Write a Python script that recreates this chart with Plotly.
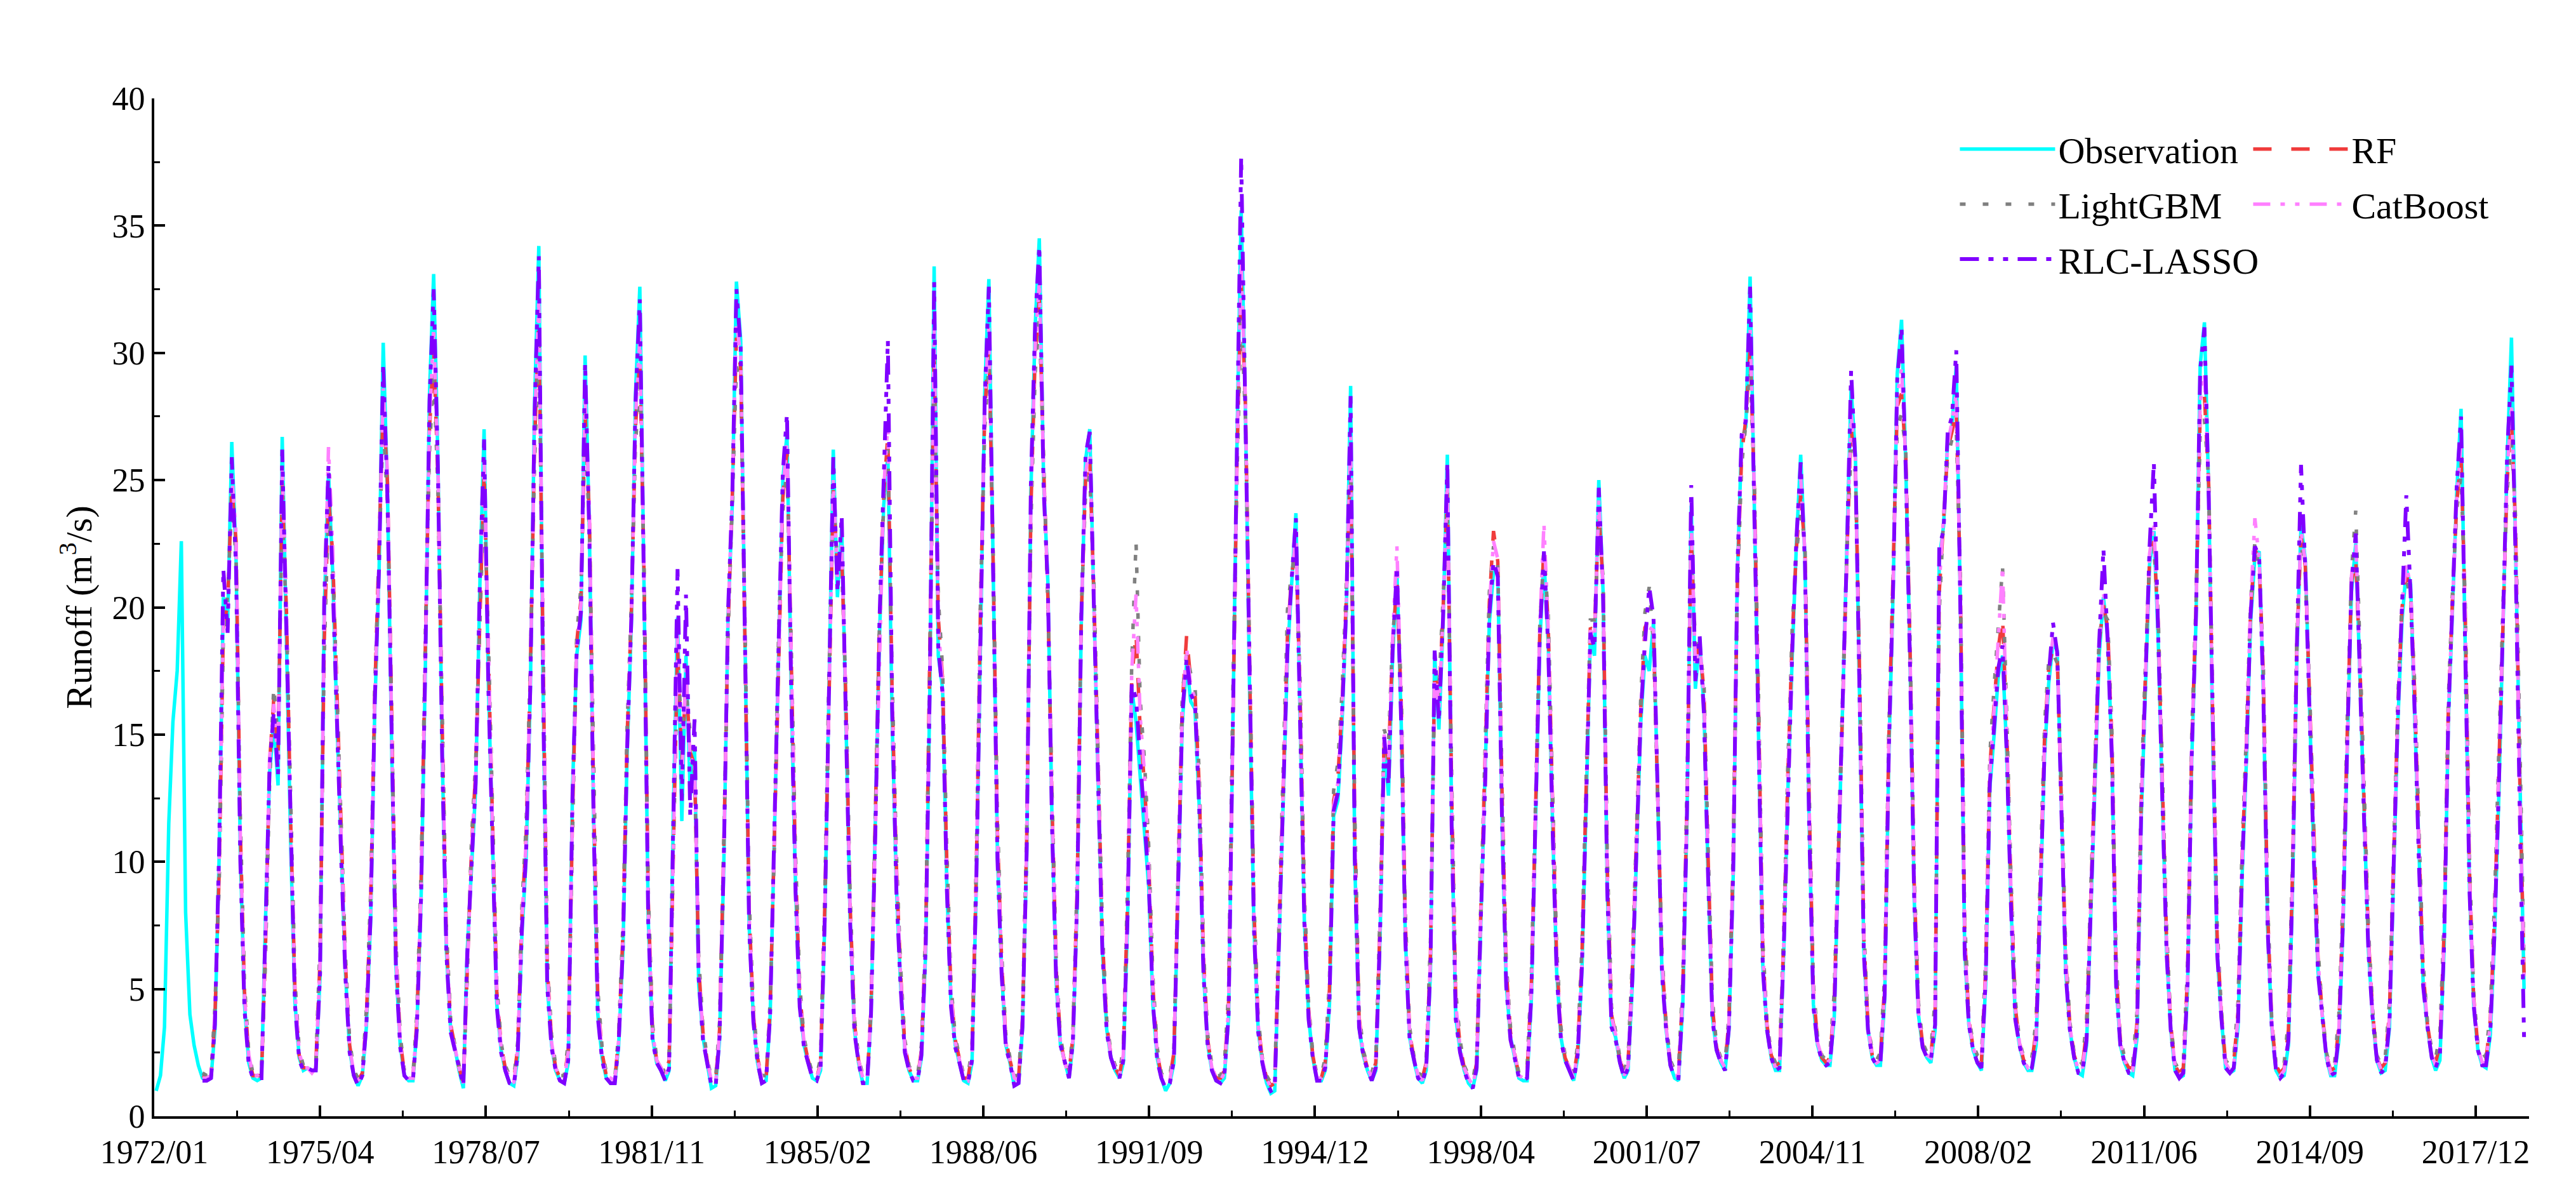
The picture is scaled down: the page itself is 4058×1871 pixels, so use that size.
import pandas as pd
import plotly.graph_objects as go

# ---------------- data (monthly runoff, m3/s) ----------------
OBS_START = "1972-01-01"      # first observed month
MODEL_START = "1972-12-01"    # first simulated month

observation = [
    1.0, 1.6, 3.5, 11.5, 15.5, 17.5, 22.6, 8.0, 4.0, 2.8, 2.0, 1.5,        # 1972
    1.4, 1.5, 3.4, 10.3, 20.4, 19.4, 26.5, 21.9, 10.3, 4.4, 2.1, 1.5,      # 1973
    1.4, 1.5, 7.5, 13.5, 15.5, 13.0, 26.7, 18.5, 10.5, 4.5, 2.3, 1.8,      # 1974
    1.9, 1.8, 1.8, 5.5, 19.9, 25.3, 21.4, 15.5, 10.3, 5.7, 2.6, 1.6,       # 1975
    1.2, 1.6, 3.5, 7.7, 16.0, 21.4, 30.4, 24.5, 14.2, 5.9, 2.8, 1.6,       # 1976
    1.4, 1.4, 3.4, 8.5, 17.3, 28.4, 33.1, 25.8, 14.2, 6.5, 3.4, 2.7,       # 1977
    1.8, 1.1, 6.5, 10.0, 12.9, 21.0, 27.0, 17.0, 10.5, 4.4, 2.6, 1.8,      # 1978
    1.3, 1.2, 2.3, 7.2, 10.1, 16.8, 27.9, 34.2, 16.8, 5.2, 2.8, 1.8,       # 1979
    1.4, 1.3, 2.1, 12.9, 18.1, 19.5, 29.9, 23.0, 11.6, 4.0, 2.3, 1.5,      # 1980
    1.3, 1.3, 2.8, 6.5, 14.2, 19.4, 28.4, 32.6, 20.6, 7.7, 3.1, 2.1,       # 1981
    1.8, 1.4, 1.8, 12.0, 19.6, 11.6, 18.1, 12.6, 14.5, 5.2, 3.1, 2.1,      # 1982
    1.1, 1.2, 3.0, 10.0, 19.5, 24.0, 32.8, 30.5, 18.0, 7.5, 3.8, 2.1,      # 1983
    1.3, 1.4, 3.9, 11.6, 18.1, 25.0, 26.8, 16.8, 9.0, 4.4, 2.8, 2.1,       # 1984
    1.5, 1.4, 1.8, 7.7, 16.8, 26.2, 20.4, 23.2, 15.5, 7.7, 3.4, 2.1,       # 1985
    1.3, 1.3, 3.9, 10.8, 18.8, 24.0, 26.0, 15.5, 9.0, 5.2, 2.6, 1.8,       # 1986
    1.4, 1.4, 2.3, 6.5, 16.8, 33.4, 18.1, 16.8, 9.0, 4.4, 2.8, 2.1,        # 1987
    1.4, 1.3, 2.1, 9.0, 19.4, 28.4, 32.9, 20.6, 10.3, 5.7, 2.8, 2.1,       # 1988
    1.2, 1.3, 3.4, 10.3, 24.5, 31.0, 34.5, 25.0, 21.0, 11.6, 5.2, 2.8,     # 1989
    2.1, 1.5, 2.8, 8.3, 19.4, 25.8, 27.0, 19.4, 12.9, 6.5, 3.4, 2.3,       # 1990
    1.8, 1.5, 2.1, 7.7, 16.8, 15.5, 13.4, 11.6, 9.0, 4.4, 2.3, 1.5,        # 1991
    1.0, 1.3, 2.1, 9.0, 15.5, 17.8, 16.3, 16.0, 12.1, 5.7, 2.8, 1.8,       # 1992
    1.4, 1.3, 1.5, 3.9, 15.5, 26.6, 35.6, 27.6, 16.3, 7.5, 3.4, 2.1,       # 1993
    1.3, 0.9, 1.0, 6.5, 12.9, 18.1, 20.9, 23.7, 15.5, 7.7, 3.9, 2.3,       # 1994
    1.4, 1.4, 1.8, 4.4, 11.8, 12.4, 15.5, 19.9, 28.7, 10.0, 3.5, 2.4,      # 1995
    1.8, 1.4, 1.8, 7.0, 14.7, 12.6, 18.1, 21.4, 15.5, 7.0, 3.1, 2.2,       # 1996
    1.5, 1.3, 1.8, 5.7, 18.1, 15.2, 19.4, 26.0, 11.6, 3.9, 2.6, 1.8,       # 1997
    1.3, 1.1, 1.8, 7.7, 12.6, 19.4, 21.4, 21.4, 11.6, 5.2, 3.1, 2.3,       # 1998
    1.5, 1.4, 1.4, 4.6, 11.1, 18.6, 21.9, 18.6, 11.6, 5.7, 3.1, 2.2,       # 1999
    1.8, 1.4, 2.3, 5.7, 12.1, 18.8, 18.1, 25.0, 20.6, 9.0, 3.6, 3.1,       # 2000
    2.1, 1.5, 1.8, 5.2, 10.3, 15.5, 18.1, 17.5, 19.4, 12.1, 5.7, 3.4,      # 2001
    2.0, 1.5, 1.4, 4.4, 11.6, 24.0, 16.8, 18.8, 16.0, 9.5, 3.9, 2.6,       # 2002
    2.1, 1.8, 3.4, 9.5, 21.4, 26.6, 27.1, 33.0, 24.0, 15.5, 5.9, 3.4,      # 2003
    2.3, 1.8, 1.8, 6.5, 12.9, 18.1, 22.5, 26.0, 21.9, 11.6, 4.4, 2.8,      # 2004
    2.2, 2.0, 2.0, 3.9, 10.1, 15.5, 21.7, 28.6, 26.0, 16.8, 6.5, 3.4,      # 2005
    2.3, 2.0, 2.0, 4.6, 14.2, 20.6, 29.2, 31.3, 25.5, 18.0, 8.5, 4.0,      # 2006
    2.7, 2.3, 2.1, 3.4, 21.9, 23.2, 26.6, 27.1, 29.5, 20.0, 6.5, 3.6,      # 2007
    2.6, 2.1, 1.8, 5.2, 12.9, 15.0, 17.3, 18.1, 14.2, 8.3, 3.9, 2.8,       # 2008
    2.1, 1.8, 1.8, 2.8, 8.3, 14.2, 17.0, 18.6, 18.3, 11.6, 5.7, 3.4,       # 2009
    2.3, 1.7, 1.6, 2.8, 7.7, 13.2, 18.1, 20.4, 18.8, 14.2, 5.2, 2.8,       # 2010
    2.1, 1.7, 1.6, 3.1, 11.6, 16.8, 21.7, 23.0, 18.8, 12.6, 6.5, 3.4,      # 2011
    1.8, 1.5, 1.6, 5.0, 14.0, 19.5, 29.5, 31.2, 24.5, 14.5, 6.5, 3.9,      # 2012
    1.9, 1.7, 1.8, 3.5, 9.5, 14.0, 19.4, 22.0, 22.2, 16.8, 7.5, 3.5,       # 2013
    1.8, 1.5, 1.6, 2.8, 9.0, 18.1, 23.2, 21.9, 15.5, 10.3, 5.7, 3.9,       # 2014
    2.3, 1.6, 1.6, 3.0, 7.5, 14.5, 20.6, 22.5, 16.8, 11.6, 6.5, 3.9,       # 2015
    2.2, 1.7, 1.8, 3.5, 9.5, 15.5, 19.5, 21.5, 20.9, 16.0, 10.0, 5.2,      # 2016
    3.5, 2.3, 1.8, 2.2, 6.5, 15.5, 19.9, 24.5, 27.8, 19.4, 9.0, 4.4,       # 2017
    2.6, 2.0, 1.9, 3.2, 7.0, 12.5, 18.5, 25.8, 30.6, 22.0, 12.0, 5.0,      # 2018
]

rf = [
    1.6,                                                                   # 1972-12
    1.5, 1.6, 3.9, 9.6, 19.2, 20.1, 24.8, 22.6, 11.2, 4.9, 2.3, 1.6,       # 1973
    1.6, 1.6, 6.4, 13.9, 16.4, 14.2, 24.9, 19.8, 11.4, 5.0, 2.4, 1.9,      # 1974
    1.9, 1.8, 2.0, 6.2, 18.6, 24.4, 22.1, 16.4, 11.0, 6.1, 2.8, 1.7,       # 1975
    1.4, 1.7, 3.9, 8.4, 16.6, 21.9, 28.1, 24.9, 15.0, 6.5, 3.0, 1.7,       # 1976
    1.5, 1.5, 3.7, 9.1, 18.2, 27.0, 30.2, 25.1, 15.3, 7.0, 3.6, 2.7,       # 1977
    1.9, 1.3, 5.8, 10.5, 13.6, 20.2, 25.4, 18.1, 11.2, 4.9, 2.8, 1.9,      # 1978
    1.5, 1.4, 2.7, 7.9, 11.0, 17.5, 26.4, 31.2, 18.1, 5.9, 3.0, 1.9,       # 1979
    1.5, 1.5, 2.6, 11.8, 18.6, 20.3, 27.6, 23.6, 12.5, 4.6, 2.5, 1.6,      # 1980
    1.5, 1.4, 3.1, 7.2, 14.9, 19.9, 27.1, 29.8, 21.2, 8.5, 3.4, 2.2,       # 1981
    1.9, 1.6, 2.2, 11.1, 18.4, 13.9, 17.2, 14.3, 13.8, 5.9, 3.3, 2.2,      # 1982
    1.4, 1.4, 3.4, 10.6, 19.1, 24.3, 30.6, 29.4, 18.9, 8.1, 4.0, 2.3,      # 1983
    1.5, 1.5, 4.2, 11.0, 18.6, 24.3, 26.1, 17.9, 9.8, 4.9, 3.0, 2.2,       # 1984
    1.6, 1.5, 2.1, 8.3, 17.2, 24.6, 21.5, 22.1, 16.2, 8.3, 3.7, 2.2,       # 1985
    1.5, 1.4, 4.2, 11.2, 19.1, 24.4, 26.8, 16.6, 9.8, 5.6, 2.8, 1.9,       # 1986
    1.5, 1.5, 2.6, 7.1, 17.5, 30.1, 19.6, 17.2, 9.9, 4.9, 3.0, 2.2,        # 1987
    1.5, 1.5, 2.5, 9.6, 19.9, 27.6, 30.4, 21.8, 11.2, 6.2, 3.0, 2.2,       # 1988
    1.5, 1.5, 3.8, 10.9, 23.8, 29.9, 32.1, 25.6, 20.4, 12.3, 5.7, 3.0,     # 1989
    2.1, 1.7, 3.1, 8.9, 19.7, 25.0, 25.9, 20.3, 13.6, 7.0, 3.6, 2.4,       # 1990
    1.9, 1.6, 2.5, 8.6, 17.2, 19.0, 15.2, 13.1, 10.0, 5.1, 2.5, 1.6,       # 1991
    1.3, 1.5, 2.5, 9.6, 16.2, 18.9, 17.1, 16.6, 12.9, 6.3, 3.0, 1.9,       # 1992
    1.5, 1.5, 1.8, 4.5, 16.1, 25.8, 32.8, 27.9, 17.4, 8.2, 3.7, 2.2,       # 1993
    1.5, 1.2, 1.3, 7.3, 13.8, 18.9, 21.2, 22.6, 16.4, 8.4, 4.2, 2.4,       # 1994
    1.5, 1.5, 2.1, 5.0, 12.4, 13.3, 16.2, 20.4, 26.0, 11.3, 3.9, 2.5,      # 1995
    1.9, 1.6, 2.1, 7.6, 14.9, 14.0, 18.6, 21.0, 16.3, 7.6, 3.3, 2.3,       # 1996
    1.6, 1.5, 2.1, 6.4, 17.5, 16.3, 19.9, 24.6, 12.8, 4.5, 2.8, 1.9,       # 1997
    1.5, 1.3, 2.1, 8.3, 13.4, 20.2, 23.0, 21.8, 12.7, 5.8, 3.3, 2.4,       # 1998
    1.6, 1.5, 1.7, 5.2, 11.8, 19.0, 22.4, 19.3, 12.5, 6.2, 3.3, 2.3,       # 1999
    1.9, 1.6, 2.6, 6.3, 12.8, 19.2, 19.0, 23.8, 20.9, 9.9, 4.0, 3.2,       # 2000
    2.2, 1.7, 2.1, 5.8, 11.0, 16.1, 19.2, 19.6, 18.9, 12.8, 6.2, 3.6,      # 2001
    2.1, 1.7, 1.7, 5.0, 12.3, 22.9, 18.0, 18.5, 16.7, 10.2, 4.3, 2.7,      # 2002
    2.2, 2.0, 3.8, 10.2, 21.0, 26.0, 27.4, 30.2, 24.6, 16.1, 6.5, 3.6,     # 2003
    2.4, 2.0, 2.1, 7.1, 13.6, 18.8, 22.3, 24.4, 22.3, 12.5, 4.9, 3.0,      # 2004
    2.3, 2.1, 2.3, 4.5, 10.8, 16.2, 22.0, 27.0, 25.6, 17.5, 7.1, 3.6,      # 2005
    2.4, 2.1, 2.3, 5.2, 14.8, 21.0, 27.9, 28.4, 25.9, 18.5, 9.1, 4.3,      # 2006
    2.8, 2.4, 2.4, 4.1, 20.6, 23.4, 26.2, 26.9, 27.8, 20.6, 7.2, 3.8,      # 2007
    2.7, 2.3, 2.1, 5.8, 13.7, 16.2, 18.4, 19.6, 15.1, 9.0, 4.3, 2.9,       # 2008
    2.2, 2.0, 2.1, 3.4, 9.1, 14.9, 17.6, 18.4, 18.0, 12.4, 6.2, 3.6,       # 2009
    2.4, 1.9, 1.9, 3.4, 8.4, 13.9, 18.6, 20.1, 19.2, 14.8, 5.8, 3.0,       # 2010
    2.2, 1.9, 1.9, 3.7, 12.3, 17.4, 21.9, 22.6, 19.4, 13.3, 7.0, 3.6,      # 2011
    2.0, 1.7, 1.9, 5.6, 14.6, 19.9, 27.6, 28.3, 24.8, 15.3, 7.1, 4.1,      # 2012
    2.1, 1.9, 2.1, 4.1, 10.2, 14.7, 19.9, 22.3, 21.8, 17.4, 8.1, 3.7,      # 2013
    2.0, 1.7, 1.9, 3.4, 9.7, 18.6, 22.8, 21.6, 16.3, 11.0, 6.2, 4.1,       # 2014
    2.4, 1.8, 1.9, 3.6, 8.2, 15.2, 21.0, 21.9, 17.6, 12.3, 7.0, 4.1,       # 2015
    2.3, 1.9, 2.1, 4.1, 10.2, 16.1, 20.0, 21.3, 20.6, 16.6, 10.7, 5.7,     # 2016
    3.6, 2.5, 2.1, 2.8, 7.2, 16.0, 20.3, 24.1, 25.9, 19.9, 9.7, 4.7,       # 2017
    2.7, 2.2, 2.2, 3.8, 7.8, 13.8, 19.6, 25.0, 27.4, 23.1, 13.0, 5.6,      # 2018
]

lightgbm = [
    1.7,                                                                   # 1972-12
    1.6, 1.7, 4.3, 9.1, 18.8, 20.5, 24.1, 22.0, 11.8, 5.2, 2.5, 1.7,       # 1973
    1.7, 1.8, 5.9, 13.2, 16.9, 14.8, 23.8, 19.5, 11.9, 5.4, 2.6, 2.0,      # 1974
    2.0, 1.9, 2.1, 6.8, 18.1, 23.9, 21.9, 16.9, 11.4, 6.4, 3.0, 1.8,       # 1975
    1.5, 1.8, 4.2, 8.8, 16.9, 22.2, 27.2, 24.1, 15.6, 6.9, 3.2, 1.8,       # 1976
    1.6, 1.6, 4.0, 9.6, 18.7, 26.1, 29.4, 24.6, 15.9, 7.4, 3.8, 2.8,       # 1977
    2.0, 1.4, 5.4, 10.9, 14.0, 19.6, 24.6, 18.8, 11.7, 5.2, 2.9, 2.0,      # 1978
    1.6, 1.5, 2.9, 8.3, 11.4, 17.9, 25.6, 30.4, 18.9, 6.3, 3.2, 2.0,       # 1979
    1.6, 1.6, 2.9, 11.2, 18.9, 20.8, 26.9, 23.2, 13.1, 5.0, 2.7, 1.7,      # 1980
    1.6, 1.5, 3.3, 7.6, 15.3, 20.2, 26.4, 29.1, 21.5, 8.9, 3.6, 2.3,       # 1981
    2.0, 1.7, 2.4, 10.6, 18.0, 15.1, 16.8, 15.0, 13.5, 6.3, 3.5, 2.3,      # 1982
    1.5, 1.5, 3.7, 11.0, 18.8, 24.0, 29.5, 28.7, 19.5, 8.6, 4.2, 2.4,      # 1983
    1.6, 1.6, 4.5, 10.6, 18.9, 23.8, 25.5, 18.5, 10.3, 5.2, 3.1, 2.3,      # 1984
    1.7, 1.6, 2.3, 8.8, 17.5, 23.9, 21.9, 21.6, 16.7, 8.7, 3.9, 2.3,       # 1985
    1.6, 1.5, 4.5, 11.6, 19.3, 24.1, 26.2, 17.2, 10.3, 5.9, 3.0, 2.0,      # 1986
    1.6, 1.6, 2.8, 7.5, 17.9, 28.8, 20.4, 17.6, 10.5, 5.2, 3.1, 2.3,       # 1987
    1.6, 1.6, 2.7, 10.0, 20.2, 27.0, 29.6, 22.3, 11.8, 6.5, 3.2, 2.3,      # 1988
    1.6, 1.6, 4.0, 11.3, 23.2, 29.2, 31.3, 25.9, 20.1, 12.8, 6.0, 3.1,     # 1989
    2.2, 1.8, 3.3, 9.3, 19.9, 24.5, 25.2, 20.8, 14.0, 7.3, 3.8, 2.5,       # 1990
    2.0, 1.7, 2.7, 9.2, 17.8, 22.6, 16.4, 14.0, 10.6, 5.5, 2.7, 1.7,       # 1991
    1.4, 1.6, 2.7, 10.0, 16.6, 18.2, 17.4, 16.9, 13.4, 6.6, 3.2, 2.0,      # 1992
    1.6, 1.6, 2.0, 4.9, 16.5, 25.2, 31.6, 27.4, 18.0, 8.6, 3.9, 2.3,       # 1993
    1.6, 1.3, 1.5, 7.8, 14.6, 19.9, 21.4, 22.1, 17.0, 8.9, 4.4, 2.5,       # 1994
    1.6, 1.6, 2.3, 5.4, 12.8, 13.9, 16.7, 20.6, 25.1, 12.0, 4.2, 2.6,      # 1995
    2.0, 1.7, 2.3, 8.0, 15.2, 14.6, 18.9, 20.8, 16.8, 8.0, 3.5, 2.4,       # 1996
    1.7, 1.6, 2.3, 6.9, 17.1, 16.9, 20.2, 23.9, 13.5, 4.9, 3.0, 2.0,       # 1997
    1.6, 1.4, 2.3, 8.7, 13.9, 20.6, 22.4, 21.6, 13.3, 6.1, 3.5, 2.5,       # 1998
    1.7, 1.6, 1.9, 5.6, 12.3, 19.3, 22.1, 19.7, 13.0, 6.6, 3.5, 2.4,       # 1999
    2.0, 1.7, 2.8, 6.7, 13.2, 19.5, 19.5, 23.1, 21.2, 10.4, 4.3, 3.3,      # 2000
    2.3, 1.8, 2.3, 6.2, 11.5, 16.5, 19.8, 20.8, 18.6, 13.2, 6.5, 3.7,      # 2001
    2.2, 1.8, 1.9, 5.4, 12.8, 22.1, 18.7, 18.3, 17.1, 10.6, 4.6, 2.8,      # 2002
    2.3, 2.1, 4.0, 10.6, 20.6, 25.6, 27.2, 29.3, 24.9, 16.6, 6.9, 3.7,     # 2003
    2.5, 2.1, 2.3, 7.5, 14.0, 19.2, 22.1, 23.7, 22.6, 13.0, 5.2, 3.1,      # 2004
    2.4, 2.2, 2.5, 4.9, 11.3, 16.6, 22.2, 26.2, 25.3, 17.9, 7.5, 3.7,      # 2005
    2.5, 2.2, 2.5, 5.6, 15.2, 21.3, 27.1, 27.6, 26.1, 18.9, 9.5, 4.5,      # 2006
    2.9, 2.5, 2.6, 4.6, 19.8, 23.5, 25.9, 26.6, 27.0, 21.1, 7.7, 4.0,      # 2007
    2.8, 2.4, 2.3, 6.2, 14.2, 16.9, 19.2, 21.6, 15.6, 9.4, 4.6, 3.0,       # 2008
    2.3, 2.1, 2.3, 3.8, 9.6, 15.4, 17.9, 18.2, 17.8, 12.9, 6.6, 3.7,       # 2009
    2.5, 2.0, 2.1, 3.8, 8.9, 14.4, 18.9, 19.8, 19.5, 15.2, 6.2, 3.1,       # 2010
    2.3, 2.0, 2.1, 4.1, 12.8, 17.8, 22.0, 22.3, 19.8, 13.8, 7.4, 3.7,      # 2011
    2.1, 1.8, 2.1, 6.0, 15.0, 20.2, 26.8, 27.4, 25.0, 15.8, 7.5, 4.2,      # 2012
    2.2, 2.0, 2.3, 4.5, 10.7, 15.1, 20.2, 22.6, 21.5, 17.8, 8.5, 3.8,      # 2013
    2.1, 1.8, 2.1, 3.8, 10.2, 18.9, 22.5, 21.3, 16.8, 11.4, 6.6, 4.2,      # 2014
    2.5, 1.9, 2.1, 4.0, 8.7, 15.7, 21.4, 23.8, 18.1, 12.7, 7.4, 4.2,       # 2015
    2.4, 2.0, 2.3, 4.5, 10.7, 16.5, 20.3, 21.1, 20.4, 17.0, 11.2, 6.0,     # 2016
    3.7, 2.6, 2.3, 3.2, 7.7, 16.4, 20.6, 23.8, 25.2, 20.3, 10.2, 4.9,      # 2017
    2.8, 2.3, 2.4, 4.2, 8.4, 14.3, 20.0, 24.6, 26.5, 23.5, 13.6, 6.0,      # 2018
]

catboost = [
    1.5,                                                                   # 1972-12
    1.5, 1.6, 4.1, 9.9, 19.6, 20.0, 25.2, 22.9, 11.0, 4.7, 2.4, 1.6,       # 1973
    1.6, 1.7, 6.8, 14.1, 16.2, 14.0, 25.5, 20.1, 11.1, 4.9, 2.5, 1.9,      # 1974
    1.9, 1.7, 1.9, 6.0, 19.3, 26.3, 22.4, 16.0, 10.8, 6.0, 2.7, 1.7,       # 1975
    1.4, 1.7, 3.8, 8.2, 16.4, 21.8, 28.6, 25.2, 14.8, 6.3, 2.9, 1.7,       # 1976
    1.5, 1.5, 3.6, 8.9, 17.9, 27.3, 31.0, 25.6, 15.0, 6.9, 3.5, 2.7,       # 1977
    1.9, 1.3, 6.0, 10.4, 13.4, 20.5, 25.9, 17.9, 11.0, 4.8, 2.7, 1.9,      # 1978
    1.5, 1.3, 2.6, 7.7, 10.8, 17.2, 26.9, 32.1, 17.7, 5.7, 2.9, 1.9,       # 1979
    1.5, 1.4, 2.5, 12.1, 18.4, 20.1, 28.3, 23.9, 12.2, 4.5, 2.4, 1.6,      # 1980
    1.5, 1.4, 3.0, 7.0, 14.7, 19.7, 27.5, 30.6, 21.0, 8.2, 3.3, 2.2,       # 1981
    1.9, 1.5, 2.1, 11.4, 18.9, 13.2, 17.6, 13.9, 14.1, 5.7, 3.2, 2.2,      # 1982
    1.4, 1.3, 3.3, 10.4, 19.3, 24.6, 31.2, 29.9, 18.6, 7.9, 3.9, 2.2,      # 1983
    1.5, 1.5, 4.1, 11.2, 18.4, 24.6, 26.5, 17.6, 9.6, 4.8, 2.9, 2.2,       # 1984
    1.6, 1.5, 2.0, 8.1, 17.0, 25.0, 21.2, 22.5, 16.0, 8.1, 3.6, 2.2,       # 1985
    1.5, 1.4, 4.1, 11.0, 19.0, 24.6, 27.3, 16.3, 9.6, 5.5, 2.7, 1.9,       # 1986
    1.5, 1.5, 2.5, 6.9, 17.3, 31.0, 19.3, 17.0, 9.7, 4.8, 2.9, 2.2,        # 1987
    1.5, 1.4, 2.4, 9.4, 19.7, 27.9, 31.0, 21.5, 11.0, 6.0, 2.9, 2.2,       # 1988
    1.5, 1.4, 3.7, 10.7, 24.0, 30.3, 32.8, 25.4, 20.6, 12.1, 5.6, 2.9,     # 1989
    2.1, 1.6, 3.0, 8.7, 19.6, 25.3, 26.3, 20.0, 13.4, 6.9, 3.5, 2.4,       # 1990
    1.9, 1.6, 2.4, 8.4, 17.5, 20.5, 15.7, 13.5, 9.8, 5.0, 2.5, 1.6,        # 1991
    1.3, 1.4, 2.4, 9.4, 16.0, 18.4, 16.9, 16.4, 12.7, 6.1, 2.9, 1.9,       # 1992
    1.5, 1.4, 1.7, 4.3, 15.9, 26.0, 33.6, 28.1, 17.1, 8.0, 3.6, 2.2,       # 1993
    1.5, 1.1, 1.2, 7.1, 13.6, 18.7, 21.0, 23.0, 16.1, 8.2, 4.1, 2.4,       # 1994
    1.5, 1.5, 2.0, 4.8, 12.2, 13.1, 16.0, 20.2, 26.8, 11.0, 3.8, 2.5,      # 1995
    1.9, 1.5, 2.0, 7.4, 15.0, 13.7, 18.8, 22.4, 16.1, 7.5, 3.2, 2.3,       # 1996
    1.6, 1.4, 2.0, 6.2, 17.8, 16.0, 19.7, 25.1, 12.5, 4.4, 2.7, 1.9,       # 1997
    1.5, 1.2, 2.0, 8.1, 13.2, 20.0, 22.6, 21.9, 12.4, 5.7, 3.2, 2.4,       # 1998
    1.6, 1.5, 1.6, 5.0, 11.6, 19.2, 23.3, 19.1, 12.3, 6.1, 3.2, 2.3,       # 1999
    1.9, 1.5, 2.5, 6.1, 12.6, 19.1, 18.8, 24.2, 20.8, 9.7, 3.9, 3.2,       # 2000
    2.2, 1.6, 2.0, 5.6, 10.8, 15.9, 19.0, 19.2, 19.1, 12.6, 6.1, 3.5,      # 2001
    2.1, 1.6, 1.6, 4.8, 12.1, 23.3, 17.7, 18.6, 16.5, 10.0, 4.2, 2.7,      # 2002
    2.2, 1.9, 3.7, 10.0, 21.2, 26.3, 27.6, 31.0, 24.4, 15.9, 6.4, 3.5,     # 2003
    2.4, 1.9, 2.0, 6.9, 13.4, 18.6, 22.6, 25.1, 22.1, 12.3, 4.8, 2.9,      # 2004
    2.3, 2.1, 2.2, 4.3, 10.6, 16.0, 21.9, 27.6, 25.8, 17.3, 7.0, 3.5,      # 2005
    2.4, 2.1, 2.2, 5.0, 14.6, 20.9, 28.3, 29.4, 25.7, 18.3, 9.0, 4.2,      # 2006
    2.8, 2.4, 2.3, 3.9, 20.9, 23.6, 26.4, 27.3, 28.4, 20.4, 7.0, 3.7,      # 2007
    2.7, 2.2, 2.0, 5.6, 13.5, 16.0, 18.7, 21.6, 14.9, 8.8, 4.2, 2.9,       # 2008
    2.2, 1.9, 2.0, 3.2, 8.9, 14.7, 17.4, 18.8, 18.1, 12.2, 6.1, 3.5,       # 2009
    2.4, 1.8, 1.8, 3.2, 8.2, 13.7, 18.4, 20.6, 19.0, 14.6, 5.7, 2.9,       # 2010
    2.2, 1.8, 1.8, 3.5, 12.1, 17.2, 22.1, 23.3, 19.2, 13.1, 6.9, 3.5,      # 2011
    2.0, 1.6, 1.8, 5.4, 14.4, 19.8, 28.1, 29.2, 24.7, 15.1, 7.0, 4.0,      # 2012
    2.1, 1.8, 2.0, 3.9, 10.0, 14.6, 20.1, 23.5, 21.9, 17.2, 8.0, 3.6,      # 2013
    2.0, 1.6, 1.8, 3.2, 9.5, 18.4, 23.0, 21.8, 16.1, 10.8, 6.1, 4.0,       # 2014
    2.4, 1.7, 1.8, 3.4, 8.0, 15.0, 21.2, 22.8, 17.4, 12.1, 6.9, 4.0,       # 2015
    2.3, 1.8, 2.0, 3.9, 10.0, 15.9, 20.2, 21.7, 20.8, 16.4, 10.5, 5.6,     # 2016
    3.6, 2.4, 2.0, 2.6, 7.0, 15.8, 20.1, 24.3, 26.4, 19.7, 9.5, 4.6,       # 2017
    2.7, 2.1, 2.1, 3.6, 7.6, 13.5, 19.3, 25.3, 28.0, 22.8, 12.8, 5.5,      # 2018
]

rlc_lasso = [
    1.4,                                                                   # 1972-12
    1.4, 1.5, 3.6, 10.6, 21.5, 19.0, 25.9, 21.5, 10.0, 4.2, 2.0, 1.5,      # 1973
    1.5, 1.5, 7.2, 13.8, 15.9, 13.4, 26.2, 18.9, 10.6, 4.4, 2.2, 1.8,      # 1974
    1.9, 1.8, 1.8, 5.6, 20.3, 25.6, 21.0, 15.2, 10.1, 5.5, 2.5, 1.6,       # 1975
    1.2, 1.6, 3.6, 7.9, 16.3, 21.6, 29.6, 24.2, 14.0, 5.8, 2.7, 1.6,       # 1976
    1.4, 1.4, 3.4, 8.6, 17.6, 28.1, 32.5, 25.4, 14.0, 6.4, 3.3, 2.6,       # 1977
    1.8, 1.2, 6.4, 10.2, 13.1, 21.2, 26.6, 16.8, 10.3, 4.3, 2.5, 1.8,      # 1978
    1.3, 1.2, 2.4, 7.4, 10.3, 17.0, 27.5, 33.8, 16.6, 5.1, 2.7, 1.8,       # 1979
    1.4, 1.3, 2.2, 12.7, 18.3, 19.8, 29.6, 22.7, 11.4, 3.9, 2.2, 1.5,      # 1980
    1.3, 1.3, 2.9, 6.7, 14.4, 19.6, 28.1, 32.1, 20.3, 7.6, 3.0, 2.1,       # 1981
    1.8, 1.4, 1.9, 12.4, 21.5, 12.4, 20.5, 11.8, 15.6, 5.4, 3.0, 2.1,      # 1982
    1.2, 1.2, 3.1, 10.2, 19.8, 24.3, 32.5, 30.2, 17.8, 7.4, 3.7, 2.1,      # 1983
    1.3, 1.4, 4.0, 11.8, 18.5, 25.3, 27.6, 16.5, 8.8, 4.3, 2.7, 2.1,       # 1984
    1.5, 1.4, 1.9, 7.9, 17.1, 25.9, 20.6, 23.6, 15.3, 7.6, 3.3, 2.1,       # 1985
    1.3, 1.3, 4.0, 11.0, 19.4, 25.2, 30.5, 16.0, 8.8, 5.1, 2.5, 1.8,       # 1986
    1.4, 1.4, 2.4, 6.7, 17.1, 32.8, 18.4, 16.6, 8.9, 4.3, 2.7, 2.1,        # 1987
    1.4, 1.3, 2.2, 9.2, 19.6, 28.2, 32.6, 20.4, 10.1, 5.6, 2.7, 2.1,       # 1988
    1.2, 1.3, 3.5, 10.5, 24.8, 31.2, 34.2, 24.7, 20.8, 11.4, 5.1, 2.8,     # 1989
    2.1, 1.5, 2.9, 8.5, 19.6, 26.0, 26.9, 19.2, 12.8, 6.4, 3.3, 2.3,       # 1990
    1.8, 1.5, 2.2, 7.9, 17.0, 16.4, 14.0, 12.0, 9.2, 4.5, 2.2, 1.5,        # 1991
    1.1, 1.3, 2.2, 9.2, 15.8, 18.0, 16.6, 16.2, 12.0, 5.6, 2.7, 1.8,       # 1992
    1.4, 1.3, 1.6, 4.0, 15.8, 27.0, 37.7, 27.3, 16.1, 7.4, 3.3, 2.1,       # 1993
    1.3, 1.0, 1.1, 6.7, 13.2, 18.4, 21.1, 23.5, 15.3, 7.6, 3.8, 2.3,       # 1994
    1.4, 1.4, 1.9, 4.5, 12.0, 12.7, 15.8, 20.1, 28.3, 10.1, 3.5, 2.4,      # 1995
    1.8, 1.4, 1.9, 7.2, 14.9, 13.0, 18.3, 21.6, 15.4, 6.9, 3.0, 2.2,       # 1996
    1.5, 1.3, 1.9, 5.9, 18.3, 15.5, 19.6, 25.7, 11.4, 3.8, 2.5, 1.8,       # 1997
    1.3, 1.1, 1.9, 7.9, 12.9, 19.7, 21.8, 21.2, 11.5, 5.1, 3.0, 2.3,       # 1998
    1.5, 1.4, 1.5, 4.8, 11.4, 18.9, 22.2, 18.4, 11.4, 5.6, 3.0, 2.2,       # 1999
    1.8, 1.4, 2.4, 5.9, 12.3, 19.0, 18.4, 24.7, 20.4, 8.9, 3.5, 3.0,       # 2000
    2.1, 1.5, 1.9, 5.4, 10.5, 15.8, 18.6, 20.8, 19.6, 12.0, 5.6, 3.4,      # 2001
    2.0, 1.5, 1.5, 4.6, 11.9, 24.8, 17.1, 18.9, 15.8, 9.4, 3.8, 2.6,       # 2002
    2.1, 1.8, 3.5, 9.7, 21.6, 26.8, 27.3, 32.6, 23.8, 15.4, 5.8, 3.4,      # 2003
    2.3, 1.8, 1.9, 6.7, 13.1, 18.3, 22.7, 25.7, 21.7, 11.5, 4.3, 2.8,      # 2004
    2.2, 2.0, 2.1, 4.0, 10.3, 15.8, 22.1, 29.3, 25.7, 16.6, 6.4, 3.4,      # 2005
    2.3, 2.0, 2.1, 4.8, 14.4, 20.8, 29.0, 31.0, 25.3, 17.8, 8.4, 4.0,      # 2006
    2.7, 2.3, 2.2, 3.6, 22.4, 23.0, 26.9, 27.5, 30.1, 19.8, 6.4, 3.6,      # 2007
    2.6, 2.1, 1.9, 5.4, 13.1, 15.3, 17.6, 18.5, 14.1, 8.2, 3.8, 2.8,       # 2008
    2.1, 1.8, 1.9, 3.0, 8.5, 14.4, 17.3, 19.4, 18.2, 11.5, 5.6, 3.4,       # 2009
    2.3, 1.7, 1.7, 3.0, 7.9, 13.5, 18.6, 22.3, 18.6, 14.1, 5.1, 2.8,       # 2010
    2.1, 1.7, 1.7, 3.3, 11.9, 17.1, 22.4, 25.7, 18.6, 12.5, 6.4, 3.4,      # 2011
    1.8, 1.5, 1.7, 5.2, 14.2, 19.7, 29.3, 31.0, 24.3, 14.4, 6.4, 3.9,      # 2012
    1.9, 1.7, 1.9, 3.7, 9.8, 14.3, 19.7, 22.4, 22.0, 16.6, 7.4, 3.5,       # 2013
    1.8, 1.5, 1.7, 3.0, 9.3, 18.5, 25.6, 21.5, 15.3, 10.2, 5.6, 3.8,       # 2014
    2.3, 1.6, 1.7, 3.2, 7.7, 14.8, 20.9, 22.9, 16.6, 11.5, 6.4, 3.9,       # 2015
    2.2, 1.7, 1.9, 3.7, 9.8, 15.8, 20.1, 24.4, 20.5, 15.8, 9.8, 5.1,       # 2016
    3.5, 2.3, 1.9, 2.4, 6.7, 15.7, 20.2, 24.8, 27.5, 19.2, 8.9, 4.4,       # 2017
    2.6, 2.0, 2.0, 3.4, 7.2, 12.8, 18.9, 26.1, 29.5, 21.8, 11.6, 3.1,      # 2018
]

SERIES_NAMES = ["Observation", "RF", "LightGBM", "CatBoost", "RLC-LASSO"]
Y_TICKS = [0, 5, 10, 15, 20, 25, 30, 35, 40]

# ---------------- dates (mid-month) ----------------
def month_dates(start, n):
    d = pd.date_range(start, periods=n, freq="MS") + pd.Timedelta(days=14)
    return d.strftime("%Y-%m-%d").tolist()

obs_x = month_dates(OBS_START, len(observation))
mod_x = month_dates(MODEL_START, len(rf))

FONT = "Liberation Serif"

styles = {
    "Observation": dict(color="#00FFFF", width=5.5, dash="solid"),
    "RF": dict(color="#F03C3C", width=5.5, dash="29px,31px"),
    "LightGBM": dict(color="#808080", width=5.5, dash="9px,27px"),
    "CatBoost": dict(color="#FF80FF", width=5.5, dash="27px,16px,7px,16px,7px,16px"),
    "RLC-LASSO": dict(color="#8000FF", width=6, dash="30px,15px,8px,15px,8px,15px"),
}

# one legend box per entry so the two-column layout and row spacing match
legend_ids = {
    "Observation": "legend",
    "RF": "legend2",
    "LightGBM": "legend3",
    "CatBoost": "legend4",
    "RLC-LASSO": "legend5",
}

fig = go.Figure()
for name, xs, ys in [
    ("Observation", obs_x, observation),
    ("RF", mod_x, rf),
    ("LightGBM", mod_x, lightgbm),
    ("CatBoost", mod_x, catboost),
    ("RLC-LASSO", mod_x, rlc_lasso),
]:
    fig.add_trace(go.Scatter(x=xs, y=ys, mode="lines", name=name,
                             line=styles[name], legend=legend_ids[name]))

DAY_MS = 86400000
leg_common = dict(xanchor="left", yanchor="middle", bgcolor="rgba(0,0,0,0)",
                  font=dict(family=FONT, size=58, color="black"),
                  itemwidth=150, tracegroupgap=0, orientation="v")

COL1_X, COL2_X = 0.759, 0.8825
ROW_Y = [0.950, 0.896, 0.842]

fig.update_layout(
    width=4058, height=1871,
    margin=dict(l=243, r=74, t=155, b=113),
    paper_bgcolor="white", plot_bgcolor="white",
    font=dict(family=FONT, color="black"),
    showlegend=True,
    legend=dict(x=COL1_X, y=ROW_Y[0], **leg_common),
    legend2=dict(x=COL2_X, y=ROW_Y[0], **leg_common),
    legend3=dict(x=COL1_X, y=ROW_Y[1], **leg_common),
    legend4=dict(x=COL2_X, y=ROW_Y[1], **leg_common),
    legend5=dict(x=COL1_X, y=ROW_Y[2], **leg_common),
    xaxis=dict(
        type="date",
        range=["1972-01-01", "2019-01-20"],
        tick0="1972-01-01", dtick=1200 * DAY_MS, tickformat="%Y/%m",
        ticks="inside", ticklen=17, tickwidth=4, tickcolor="black",
        minor=dict(dtick=600 * DAY_MS, tick0="1972-01-01", ticks="inside",
                   ticklen=9, tickwidth=3, tickcolor="black"),
        showline=True, linecolor="black", linewidth=4,
        showgrid=False, zeroline=False, mirror=False,
        ticklabelstandoff=8,
        tickfont=dict(family=FONT, size=52, color="black"),
    ),
    yaxis=dict(
        range=[0, 40], tickmode="array", tickvals=Y_TICKS,
        ticks="inside", ticklen=17, tickwidth=4, tickcolor="black",
        minor=dict(dtick=2.5, tick0=0, ticks="inside", ticklen=9, tickwidth=3,
                   tickcolor="black"),
        showline=True, linecolor="black", linewidth=4,
        showgrid=False, zeroline=False, mirror=False,
        tickfont=dict(family=FONT, size=52, color="black"),
        title=dict(text="Runoff (m<sup>3</sup>/s)", standoff=14,
                   font=dict(family=FONT, size=58, color="black")),
    ),
)

fig.write_html(
    "out.html",
    config={"displayModeBar": False},
    post_script="document.body.style.margin='0';document.body.style.overflow='hidden';",
)
